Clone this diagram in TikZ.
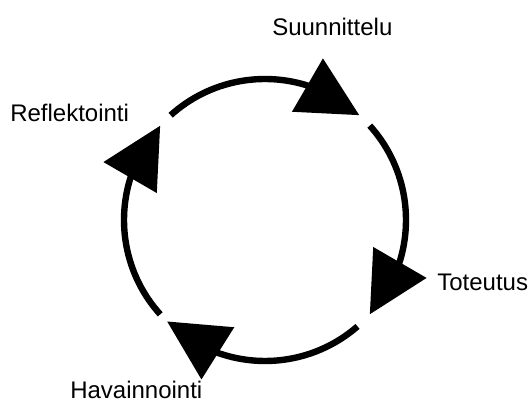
\documentclass[tikz,border=0pt]{standalone}
\usepackage{fontspec}
\setmainfont{Liberation Sans}
\usetikzlibrary{arrows.meta,bending}

\begin{document}
\begin{tikzpicture}[>={Triangle[length=1.5cm,width=1.5cm,flex]},cyclearc/.style={->,line width=0.16cm},label/.style={inner sep=0pt,anchor=base west,font=\fontsize{17.07}{20}\selectfont}]
\useasboundingbox (0,0) rectangle (13.275,10.075);
\coordinate (C) at (6.625,4.575);
\node[label] (plan) at (6.8,9.175) {Suunnittelu}; \node[label] (act) at (10.925,2.8) {Toteutus};
\node[label] (observe) at (1.75,0.1) {Havainnointi}; \node[label] (reflect) at (0.25,7.025) {Reflektointi};
\draw[cyclearc] (C) ++(132:3.525) arc[start angle=132,end angle=48,radius=3.525];
\draw[cyclearc] (C) ++(42:3.525) arc[start angle=42,end angle=-42,radius=3.525];
\draw[cyclearc] (C) ++(-49:3.525) arc[start angle=-49,end angle=-134,radius=3.525];
\draw[cyclearc] (C) ++(222:3.525) arc[start angle=222,end angle=138,radius=3.525];
\end{tikzpicture}
\end{document}
